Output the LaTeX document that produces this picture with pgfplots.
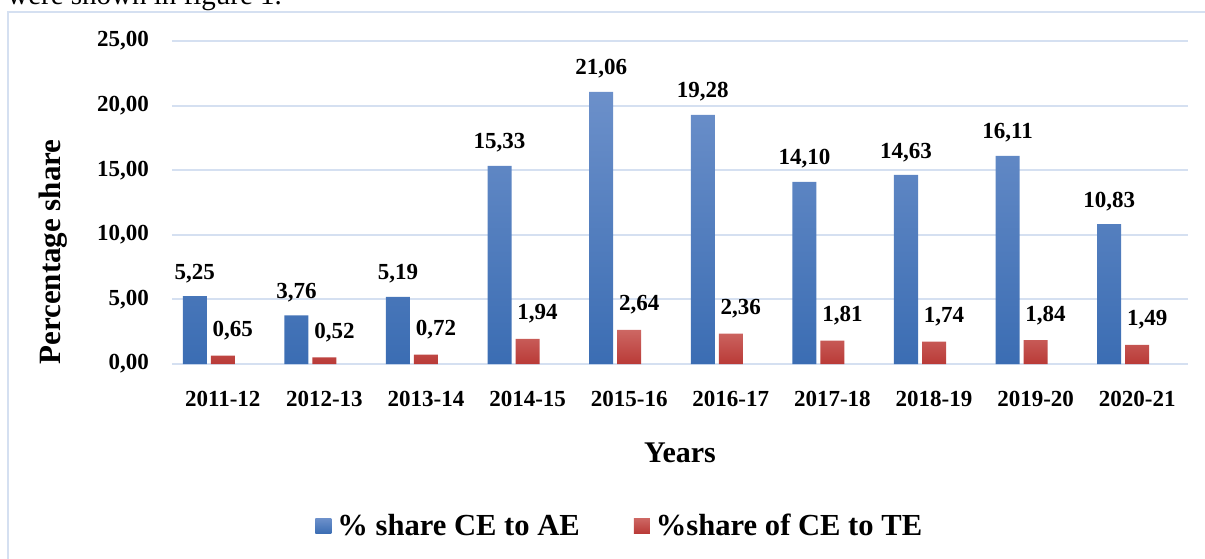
\documentclass[border=0pt]{standalone}
\usepackage{fontspec}
\setmainfont{Liberation Serif}
\usepackage{pgfplots}
\pgfplotsset{compat=1.18}
\definecolor{gridc}{HTML}{D5E0F1}
\definecolor{blueT}{HTML}{6C90CA}
\definecolor{blueB}{HTML}{3B6DB3}
\definecolor{redT}{HTML}{CD6763}
\definecolor{redB}{HTML}{B93A37}
\begin{document}
\begin{tikzpicture}
\useasboundingbox (-86pt,-97pt) rectangle (516.5pt,182pt);
\draw[gridc, line width=0.8pt] (-82pt,-103pt) rectangle (521.5pt,176pt);
\node[anchor=base west, font=\fontsize{14.5}{17}\selectfont, inner sep=0pt] at (-82.5pt,179.5pt) {were shown in figure 1.};
\begin{axis}[
  at={(0pt,0pt)}, anchor=south west,
  scale only axis, width=508pt, height=161.5pt,
  ybar,
  xmin=-0.5, xmax=9.5, ymin=0, ymax=25,
  xtick={0,...,9},
  xticklabels={2011-12,2012-13,2013-14,2014-15,2015-16,2016-17,2017-18,2018-19,2019-20,2020-21},
  ytick={0,5,...,25},
  ymajorgrids, grid style={gridc, line width=1pt},
  axis line style={draw=none},
  major tick length=0pt,
  /pgf/number format/.cd, fixed, fixed zerofill, precision=2, use comma, assume math mode=true,
  /pgfplots/.cd,
  tick label style={font=\fontsize{11.5}{14}\selectfont\bfseries},
  yticklabel style={xshift=-8pt},
  xticklabel style={yshift=-10pt},
  xlabel={Years},
  xlabel style={at={(axis description cs:0.5,-0.3034)}, anchor=base, font=\fontsize{15}{18}\selectfont\bfseries},
  ylabel={Percentage share},
  ylabel style={at={(axis description cs:-0.1093,0.3467)}, anchor=base, font=\fontsize{15.5}{18}\selectfont\bfseries},
  nodes near coords,
  every node near coord/.append style={font=\fontsize{11.5}{14}\selectfont\bfseries, text=black, inner sep=0pt, anchor=south},
  legend style={at={(axis description cs:0.1407,-0.5015)}, anchor=west, draw=none, fill=none, inner sep=0pt,
    font=\fontsize{15.3}{18}\selectfont\bfseries,
    /tikz/every even column/.append style={column sep=24pt},
    /tikz/every odd column/.append style={column sep=0pt},
    nodes={inner xsep=3pt}},
  legend columns=2,
  legend cell align=left,
]
\addplot[draw=none, top color=blueT, bottom color=blueB, bar width=12pt, bar shift=-14pt,
  every node near coord/.append style={yshift=6.5pt},
  legend image code/.code={\path[draw=none, top color=blueT, bottom color=blueB] (0pt,-3.75pt) rectangle (8pt,3.75pt);}]
  coordinates {(0,5.25) (1,3.76) (2,5.19) (3,15.33) (4,21.06) (5,19.28) (6,14.10) (7,14.63) (8,16.11) (9,10.83)};
\addlegendentry{\% share CE to AE}
\addplot[draw=none, top color=redT, bottom color=redB, bar width=12pt, bar shift=0pt,
  every node near coord/.append style={yshift=7.5pt, xshift=5pt},
  legend image code/.code={\path[draw=none, top color=redT, bottom color=redB] (0pt,-3.75pt) rectangle (8pt,3.75pt);}]
  coordinates {(0,0.65) (1,0.52) (2,0.72) (3,1.94) (4,2.64) (5,2.36) (6,1.81) (7,1.74) (8,1.84) (9,1.49)};
\addlegendentry{\%share of CE to TE}
\end{axis}
\end{tikzpicture}
\end{document}
